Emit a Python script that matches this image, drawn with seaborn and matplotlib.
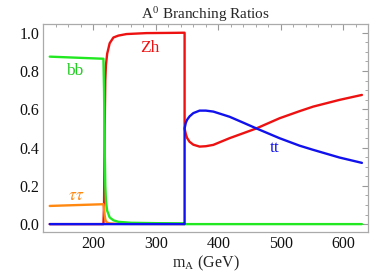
import numpy as np
import pandas as pd
import matplotlib
matplotlib.use("Agg")
import matplotlib.pyplot as plt
import seaborn as sns
from matplotlib.ticker import MultipleLocator

# ---- data ----
zh_m = [130, 216, 217, 218, 219, 220, 222, 226, 232, 240, 253, 285, 320, 346,
        346, 348, 350, 354, 360, 370, 380, 392, 418, 440, 461, 498, 530, 552, 594, 630]
zh_br = [0.0, 0.0, 0.1, 0.5, 0.75, 0.83, 0.89, 0.945, 0.975, 0.985, 0.993, 0.998, 0.999, 1.0,
         0.5, 0.47, 0.45, 0.43, 0.415, 0.405, 0.407, 0.414, 0.449, 0.475, 0.50, 0.553, 0.59, 0.614, 0.649, 0.675]

tt_m = [130, 346, 346, 348, 350, 354, 360, 370, 380, 392, 418, 440, 461, 498, 530, 552, 594, 630]
tt_br = [0.0, 0.0, 0.5, 0.53, 0.545, 0.563, 0.58, 0.593, 0.593, 0.588, 0.561, 0.53, 0.50, 0.449, 0.41, 0.388, 0.348, 0.32]

bb_m = [130, 216, 217, 218, 219, 220, 222, 226, 232, 240, 260, 300, 345, 346, 630]
bb_br = [0.875, 0.864, 0.7, 0.4, 0.2, 0.12, 0.07, 0.035, 0.02, 0.012, 0.007, 0.005, 0.004, 0.0, 0.0]

tau_m = [130, 216, 217, 218, 219, 220, 222, 226, 235, 260, 345]
tau_br = [0.095, 0.104, 0.08, 0.045, 0.025, 0.015, 0.008, 0.004, 0.002, 0.001, 0.0]

x_ticks = [200, 300, 400, 500, 600]
y_ticks = [0.0, 0.2, 0.4, 0.6, 0.8, 1.0]

series = [("Zh", zh_m, zh_br, "#ee1111"),
          ("ττ", tau_m, tau_br, "#ff8811"),
          ("bb", bb_m, bb_br, "#22e822"),
          ("tt", tt_m, tt_br, "#1111ee")]

sns.set_theme(style="white")
plt.rcParams["font.family"] = ["Liberation Serif", "DejaVu Serif"]
plt.rcParams["mathtext.fontset"] = "stix"

fig = plt.figure(figsize=(3.9, 2.73), dpi=100)
ax = fig.add_axes([0.1115, 0.151, 0.8325, 0.760])

for name, m, br, col in series:
    df = pd.DataFrame({"m": m, "br": br})
    sns.lineplot(data=df, x="m", y="br", ax=ax, color=col, lw=1.7,
                 sort=False, estimator=None)

ax.set_xlim(120, 640)
ax.set_ylim(-0.04, 1.044)
ax.set_xticks(x_ticks)
ax.set_yticks(y_ticks)
ax.set_xticklabels([str(t) for t in x_ticks])
ax.set_yticklabels([f"{t:.1f}" for t in y_ticks])
ax.xaxis.set_minor_locator(MultipleLocator(20))
ax.yaxis.set_minor_locator(MultipleLocator(0.05))
ax.tick_params(which="both", direction="in", top=True, right=True,
               color="#999999", labelsize=11.5, labelcolor="#111111", pad=3)
ax.tick_params(which="major", length=4, width=0.8)
ax.tick_params(which="minor", length=2.2, width=0.6)
for s in ax.spines.values():
    s.set_color("#aaaaaa")
    s.set_linewidth(0.9)

ax.set_xlabel(r"m$_{\mathregular{A}}$ (GeV)", fontsize=11.5, labelpad=1)
ax.set_ylabel("")
ax.set_title(r"A$^{\mathregular{0}}$ Branching Ratios", fontsize=11, pad=4)

ax.text(290, 0.92, "Zh", color="#ee1111", fontsize=12.5, ha="center", va="center")
ax.text(170, 0.80, "bb", color="#22cc22", fontsize=12.5, ha="center", va="center")
ax.text(172, 0.145, r"$\tau\tau$", color="#ff8811", fontsize=12.5, ha="center", va="center")
ax.text(490, 0.397, "tt", color="#1111ee", fontsize=12.5, ha="center", va="center")

fig.savefig("out.png", dpi=100)
